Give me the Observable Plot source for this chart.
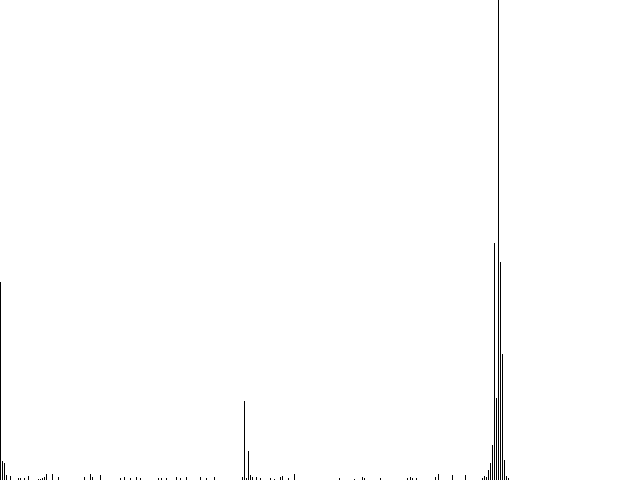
<!DOCTYPE html>
<html>
<head>
<meta charset="utf-8">
<script src="https://cdn.jsdelivr.net/npm/d3@7"></script>
<script src="https://cdn.jsdelivr.net/npm/@observablehq/plot@0.6"></script>
<style>
  html, body { margin: 0; padding: 0; background: #fff; }
  #chart svg { display: block; }
</style>
</head>
<body>
<div id="chart"></div>
<script>
// channel positions and counts
const channels = [0, 2, 4, 6, 10, 18, 20, 24, 28, 38, 40, 42, 44, 46, 52, 58,
  84, 90, 92, 100, 120, 124, 130, 136, 140, 158, 161, 166, 176, 180, 186, 200, 206, 214,
  242, 244, 246, 248, 250, 252, 256, 260, 270, 274, 280, 282, 288, 294,
  339, 354, 362, 364, 380, 407, 410, 412, 416, 435, 438, 452, 465,
  482, 484, 486, 488, 490, 492, 494, 496, 498, 500, 502, 504, 506, 508];
const counts = [198, 19, 17, 5, 4, 2, 2, 2, 4, 1, 1, 2, 3, 6, 6, 3,
  3, 6, 3, 5, 2, 3, 2, 3, 2, 2, 2, 2, 3, 2, 3, 3, 2, 3,
  3, 79, 2, 29, 5, 3, 3, 2, 2, 1, 3, 4, 2, 6,
  2, 1, 3, 2, 2, 2, 3, 2, 2, 3, 6, 5, 5,
  2, 4, 3, 10, 17, 35, 237, 82, 520, 218, 126, 20, 4, 2];
const xDomain = [0, 640];
const yDomain = [0, 480];

const data = channels.map((c, i) => ({channel: c, count: counts[i]}));

const chart = Plot.plot({
  width: 640,
  height: 480,
  margin: 0,
  x: {domain: xDomain, axis: null},
  y: {domain: yDomain, axis: null},
  marks: [
    Plot.ruleX(data, {x: "channel", y1: 0, y2: "count", stroke: "black", strokeWidth: 1, clip: true})
  ]
});
document.getElementById("chart").appendChild(chart);
</script>
</body>
</html>
